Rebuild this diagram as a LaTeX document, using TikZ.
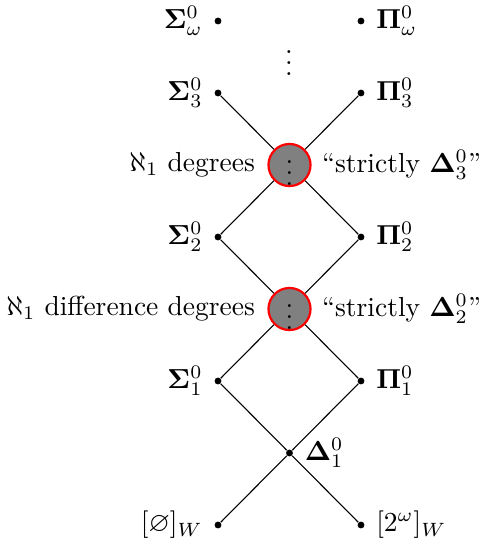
\documentclass[tikz,border=0pt]{standalone}
\usepackage{amssymb}
\begin{document}
\begin{tikzpicture}[x=0.3636pt,y=-0.3636pt,
  pt/.style={circle,fill=black,inner sep=0pt,minimum size=2.5pt},
  hub/.style={circle,draw=red,line width=0.8pt,fill=gray,inner sep=0pt},
  lbl/.style={label distance=0.6pt},
  edge/.style={draw=black,line width=0.4pt}]
\useasboundingbox (0,0) rectangle (480,538);
% dots
\node[pt,label={[lbl]left:$\mathbf{\Sigma}^0_\omega$}] (Sw) at (218,21) {};
\node[pt,label={[lbl]right:$\mathbf{\Pi}^0_\omega$}] (Pw) at (361,21) {};
\node[inner sep=0pt,anchor=south] (vd) at (289,76) {$\vdots$};
\node[pt,label={[lbl]left:$\mathbf{\Sigma}^0_3$}] (S3) at (218,93) {};
\node[pt,label={[lbl]right:$\mathbf{\Pi}^0_3$}] (P3) at (361,93) {};
\node[pt,label={[lbl]left:$\mathbf{\Sigma}^0_2$}] (S2) at (218,237) {};
\node[pt,label={[lbl]right:$\mathbf{\Pi}^0_2$}] (P2) at (361,237) {};
\node[pt,label={[lbl]left:$\mathbf{\Sigma}^0_1$}] (S1) at (218,381) {};
\node[pt,label={[lbl]right:$\mathbf{\Pi}^0_1$}] (P1) at (361,381) {};
\node[pt,label={[lbl]right:$\mathbf{\Delta}^0_1$}] (D1) at (289.5,453) {};
\node[pt,label={[lbl]left:$[\varnothing]_W$}] (BL) at (218,525) {};
\node[pt,label={[lbl]right:$[2^\omega]_W$}] (BR) at (361,525) {};
% hubs
\node[hub,label={[label distance=1pt]left:$\aleph_1$ degrees},
      label={[label distance=0.3pt]right:``strictly $\mathbf{\Delta}^0_3$''}] (c1) at (289.5,165) {$\vdots$};
\node[hub,label={[label distance=1pt]left:$\aleph_1$ difference degrees},
      label={[label distance=0.3pt]right:``strictly $\mathbf{\Delta}^0_2$''}] (c2) at (289.5,309) {$\vdots$};
% connectors
\draw[edge] (S3) -- (c1) -- (P2);
\draw[edge] (P3) -- (c1) -- (S2);
\draw[edge] (S2) -- (c2) -- (P1);
\draw[edge] (P2) -- (c2) -- (S1);
\draw[edge] (S1) -- (D1) -- (BR);
\draw[edge] (P1) -- (D1) -- (BL);
\end{tikzpicture}
\end{document}
